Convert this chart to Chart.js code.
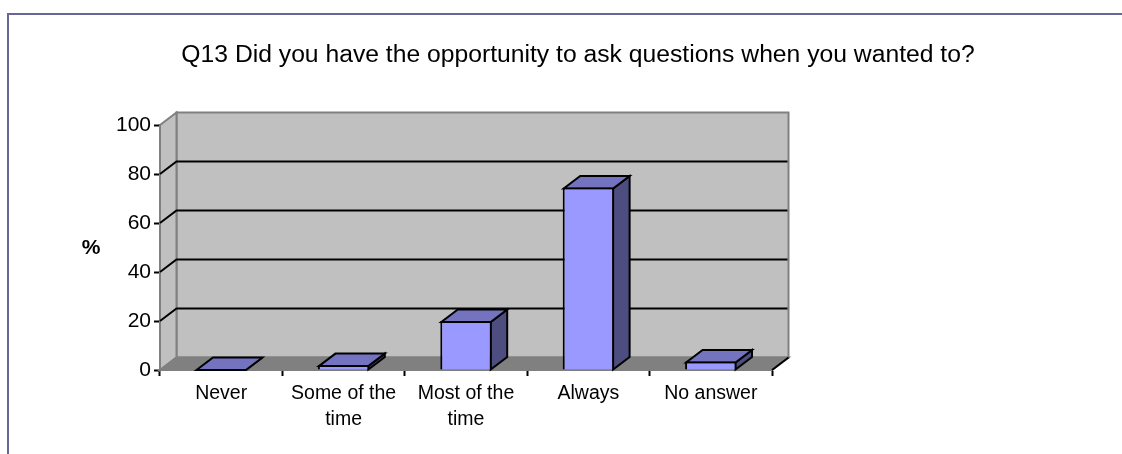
<!DOCTYPE html>
<html><head><meta charset="utf-8">
<style>
html,body{margin:0;padding:0;background:#fff;overflow:hidden}
#wrap{position:relative;width:1122px;height:454px}
#frame{position:absolute;left:7px;top:13px;right:-4px;bottom:-4px;border:2px solid #666699}
canvas{position:absolute;left:0;top:0}
</style>
<script src="https://cdn.jsdelivr.net/npm/chart.js@4"></script>
</head><body>
<div id="wrap"><div id="frame"></div><canvas id="c" width="1122" height="454"></canvas></div>
<script>
const titleText = 'Q13 Did you have the opportunity to ask questions when you wanted to?';
const yAxisTitle = '%';
const categories = ['Never', ['Some of the','time'], ['Most of the','time'], 'Always', 'No answer'];
const values = [0, 2, 20, 74.5, 3.5];
const yTicks = [0,20,40,60,80,100];
const depthX = 16.5, depthY = 12.5;
const FONT = '"Liberation Sans", Arial, sans-serif';

const threeD = {
  id:'threeD',
  afterLayout(chart){
    const t = chart.titleBlock;
    t.left = 578 - 440; t.right = 578 + 440;
  },
  beforeDatasetsDraw(chart){
    const {ctx, chartArea:a, scales:{y}} = chart;
    const L=a.left,R=a.right,T=a.top,B=a.bottom;
    ctx.save();
    ctx.lineJoin='miter';
    // back wall
    ctx.fillStyle='#C0C0C0'; ctx.strokeStyle='#808080'; ctx.lineWidth=2;
    ctx.beginPath(); ctx.rect(L+depthX,T-depthY,R-L,B-T); ctx.fill(); ctx.stroke();
    // left wall
    ctx.beginPath(); ctx.moveTo(L,T); ctx.lineTo(L+depthX,T-depthY); ctx.lineTo(L+depthX,B-depthY); ctx.lineTo(L,B); ctx.closePath(); ctx.fill(); ctx.stroke();
    // floor
    ctx.fillStyle='#808080';
    ctx.beginPath(); ctx.moveTo(L,B); ctx.lineTo(L+depthX,B-depthY); ctx.lineTo(R+depthX,B-depthY); ctx.lineTo(R,B); ctx.closePath(); ctx.fill(); ctx.stroke();
    // right floor edge
    ctx.strokeStyle='#000';
    ctx.beginPath(); ctx.moveTo(R,B); ctx.lineTo(R+depthX,B-depthY); ctx.stroke();
    // gridlines
    y.ticks.forEach(t=>{
      if(t.value<=y.min || t.value>=y.max) return;
      const p=y.getPixelForValue(t.value);
      ctx.strokeStyle='#000'; ctx.lineWidth=2;
      ctx.beginPath(); ctx.moveTo(L,p); ctx.lineTo(L+depthX,p-depthY); ctx.lineTo(R+depthX-1,p-depthY); ctx.stroke();
    });
    // bar depth faces
    chart.getDatasetMeta(0).data.forEach(el=>{
      const l=el.x-el.width/2+1, r=el.x+el.width/2-1, base=el.base, top=Math.min(el.y+1,base);
      ctx.strokeStyle='#000'; ctx.lineWidth=2;
      ctx.fillStyle='#4D4D80';
      ctx.beginPath(); ctx.moveTo(r,top); ctx.lineTo(r+depthX,top-depthY); ctx.lineTo(r+depthX,base-depthY); ctx.lineTo(r,base); ctx.closePath(); ctx.fill(); ctx.stroke();
      ctx.fillStyle='#7373BF';
      ctx.beginPath(); ctx.moveTo(l,top); ctx.lineTo(l+depthX,top-depthY); ctx.lineTo(r+depthX,top-depthY); ctx.lineTo(r,top); ctx.closePath(); ctx.fill(); ctx.stroke();
    });
    ctx.restore();
  },
  afterDraw(chart){
    const {ctx}=chart;
    ctx.save();
    ctx.fillStyle='#000'; ctx.font='bold 21px '+FONT; ctx.textAlign='center'; ctx.textBaseline='middle';
    ctx.fillText(yAxisTitle,91,248);
    ctx.restore();
  }
};

new Chart(document.getElementById('c'),{
  type:'bar',
  plugins:[threeD],
  data:{labels:categories,datasets:[{data:values,backgroundColor:'#9999FF',borderColor:'#000',borderWidth:2,barPercentage:0.42,categoryPercentage:1}]},
  options:{
    responsive:false,animation:false,devicePixelRatio:1,
    layout:{padding:{left:0,right:350,top:0,bottom:0}},
    plugins:{
      legend:{display:false},tooltip:{enabled:false},
      title:{display:true,text:titleText,color:'#000',font:{family:FONT,size:24.7,weight:'normal',lineHeight:'24px'},padding:{top:43,bottom:58}}
    },
    scales:{
      x:{z:1,
        afterFit(s){s.height=84;},
        grid:{drawOnChartArea:false,drawTicks:true,tickLength:6,tickColor:'#000',tickWidth:2,offset:true},
        border:{display:true,color:'#000',width:2},
        ticks:{color:'#000',maxRotation:0,autoSkip:false,padding:4,font:{family:FONT,size:19.5,lineHeight:1.36}}
      },
      y:{z:1,min:0,max:100,
        afterFit(s){s.width=160;},
        afterBuildTicks(s){s.ticks=yTicks.map(v=>({value:v}));},
        grid:{drawOnChartArea:false,drawTicks:true,tickLength:6,tickColor:'#000',tickWidth:2},
        border:{display:true,color:'#000',width:2},
        ticks:{color:'#000',padding:3,font:{family:FONT,size:21}}
      }
    }
  }
});
</script>
</body></html>
